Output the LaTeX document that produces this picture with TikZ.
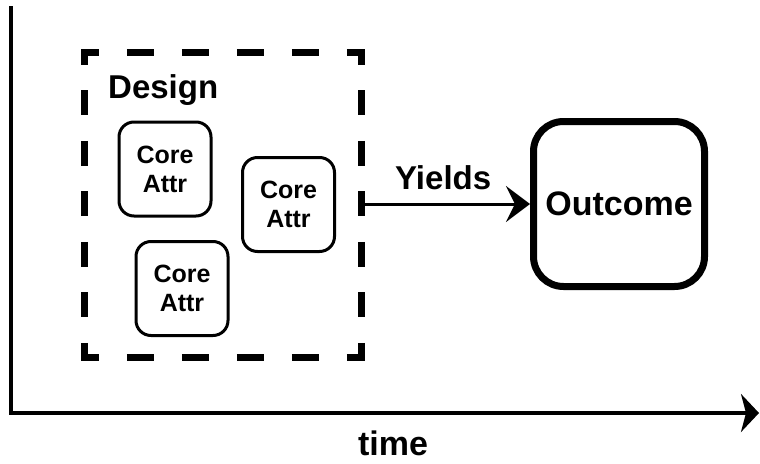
\documentclass[tikz,border=0pt]{standalone}
\usepackage{fontspec}
\setmainfont{Liberation Sans}
\usetikzlibrary{arrows.meta}

\tikzset{
  axisline/.style={line width=4pt, line cap=butt},
  corebox/.style={draw, line width=3pt, rounded corners=15pt, minimum width=92pt,
    minimum height=94pt, inner sep=0pt, align=center,
    font=\fontsize{25pt}{29pt}\selectfont\bfseries},
  outbox/.style={draw, line width=7pt, rounded corners=30pt, minimum width=171pt,
    minimum height=165pt, inner sep=0pt, font=\fontsize{34pt}{40pt}\selectfont\bfseries},
  biglabel/.style={inner sep=0pt, font=\fontsize{33pt}{40pt}\selectfont\bfseries},
  dashside/.style={line width=7pt, line cap=butt},
  hdash/.style={dashside, dash pattern=on 27pt off 28pt, dash phase=9.5pt},
  vdash/.style={dashside, dash pattern=on 25pt off 25.5pt, dash phase=9.5pt},
}

\begin{document}
\begin{tikzpicture}[x=1pt, y=-1pt]
  \useasboundingbox (0,0) rectangle (760,463);

  % time axis
  \coordinate (top) at (11,6);
  \coordinate (origin) at (11,413);
  \coordinate (tend) at (759,413);
  \draw[axisline] (top) -- ([yshift=-2pt]origin);
  \draw[axisline, -{Stealth[length=18pt, width=38pt, inset=5pt]}] ([xshift=-2pt]origin) -- (tend);
  \node[biglabel, anchor=base, font=\fontsize{34pt}{40pt}\selectfont\bfseries] (time) at (393,455) {time};

  % design frame
  \node[minimum width=276pt, minimum height=304pt, inner sep=0pt] (design) at (223,205) {};
  \draw[hdash] ([xshift=-3.5pt]design.north west) -- ([xshift=3.5pt]design.north east);
  \draw[hdash] ([xshift=-3.5pt]design.south west) -- ([xshift=3.5pt]design.south east);
  \draw[vdash] ([yshift=3.5pt]design.north west) -- ([yshift=-3.5pt]design.south west);
  \draw[vdash] ([yshift=3.5pt]design.north east) -- ([yshift=-3.5pt]design.south east);
  \node[biglabel, anchor=base west] (dlabel) at (108,98) {Design};

  % core attributes
  \node[corebox] (c1) at (165,169) {Core\\Attr};
  \node[corebox] (c2) at (288.5,204.5) {Core\\Attr};
  \node[corebox] (c3) at (182,288.5) {Core\\Attr};

  % outcome
  \node[outbox] (out) at (619,204) {Outcome};
  \draw[line width=3pt, -{Stealth[length=24pt, width=36pt, inset=9pt]}]
    (design.east |- out.west) -- (out.west);
  \node[biglabel, anchor=base west] (yields) at (395,189) {Yields};
\end{tikzpicture}
\end{document}
